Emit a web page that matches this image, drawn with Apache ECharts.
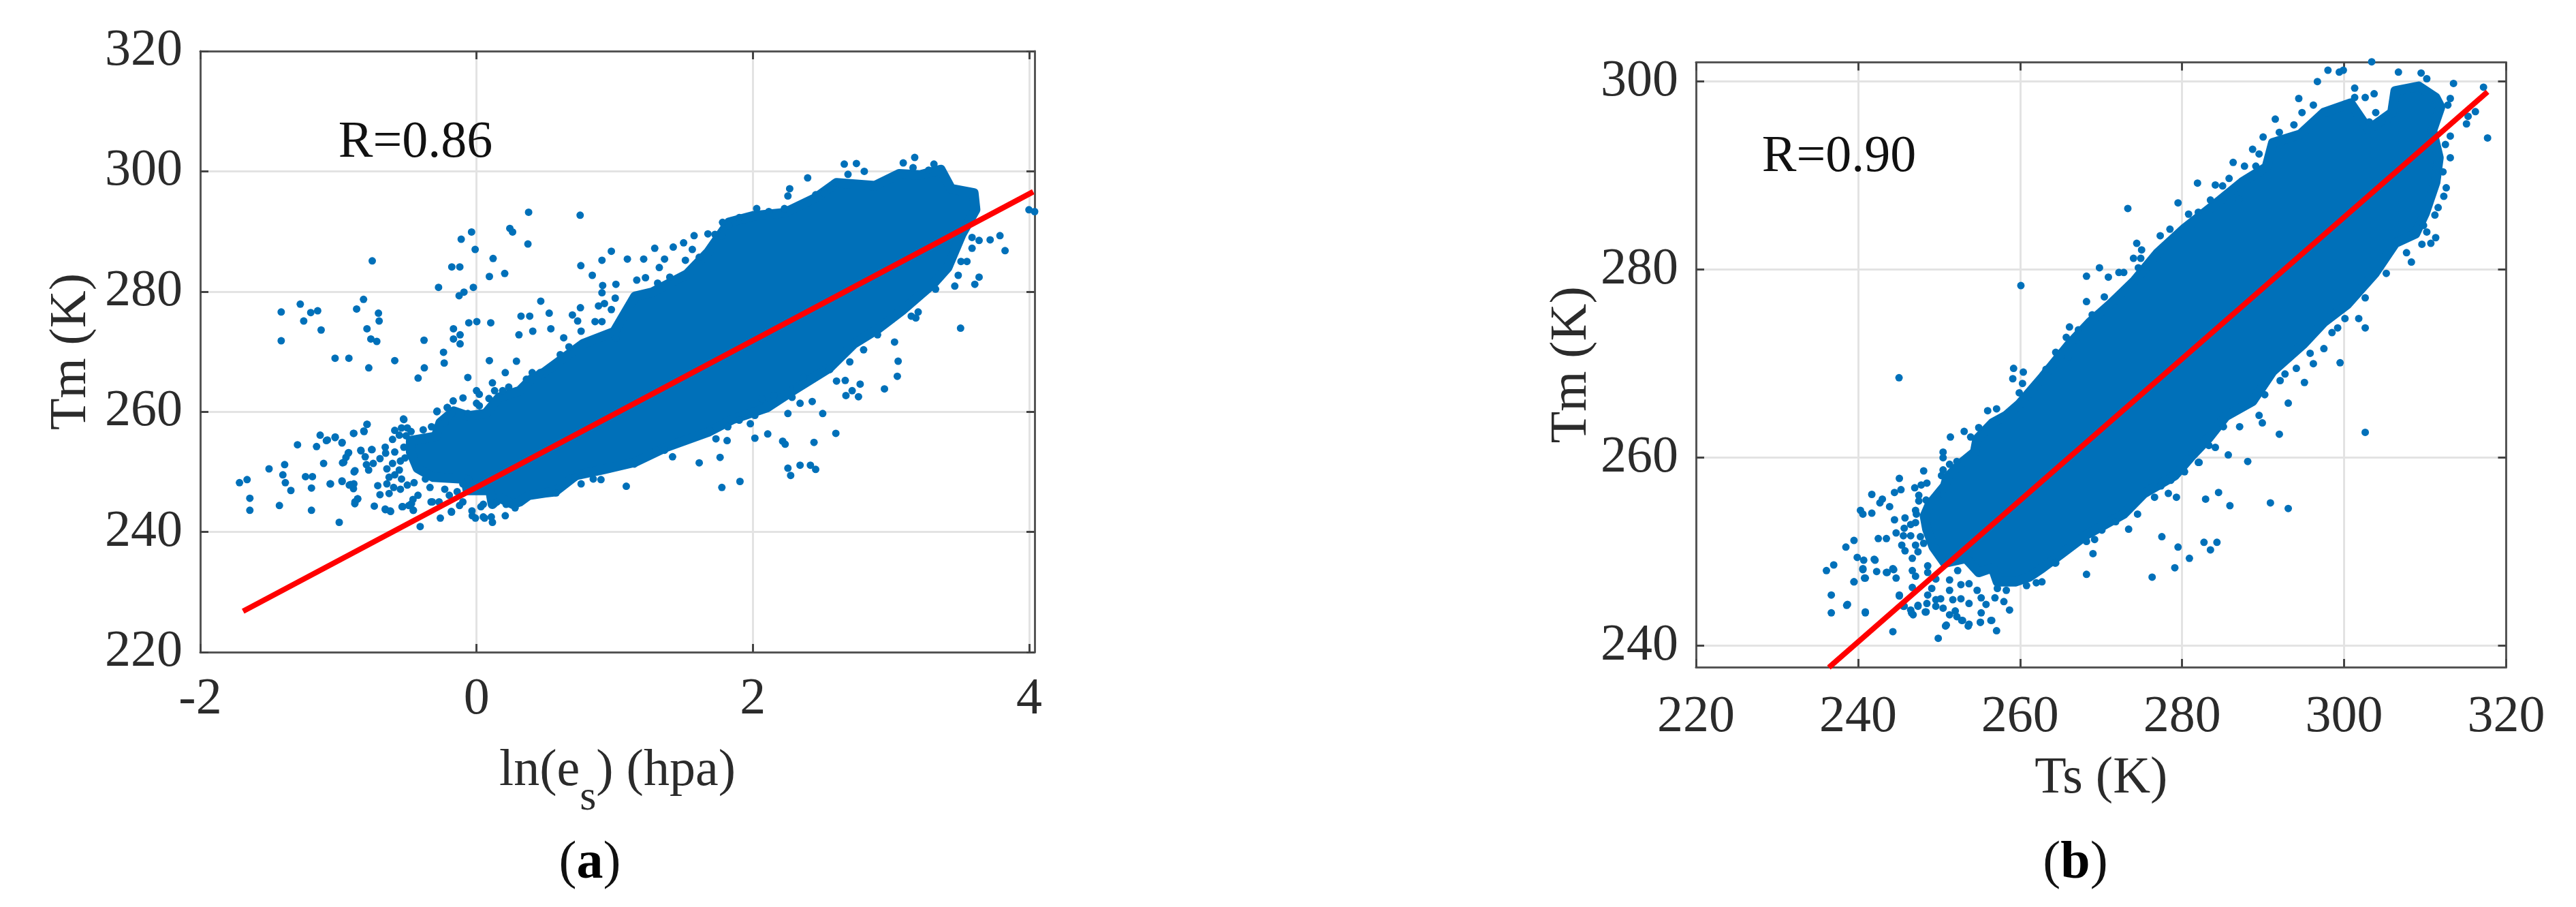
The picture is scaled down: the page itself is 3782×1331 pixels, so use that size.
<!DOCTYPE html>
<html>
<head>
<meta charset="utf-8">
<title>Tm scatter</title>
<style>
  html, body { margin: 0; padding: 0; background: #fff; }
  #chart { width: 3782px; height: 1331px; }
</style>
<script src="https://cdn.jsdelivr.net/npm/echarts@6/dist/echarts.min.js"></script>
</head>
<body>
<div id="chart"></div>
<script>
// tick labels
const xTicksA = [-2, 0, 2, 4]
const yTicksA = [220, 240, 260, 280, 300, 320]
const xTicksB = [220, 240, 260, 280, 300, 320]
const yTicksB = [240, 260, 280, 300]

// red fit lines, read at both ends
const fitA = [[-1.69, 226.8], [4.03, 296.6]]
const fitB = [[236.4, 237.7], [317.7, 298.9]]

// outline of the solid part of each cloud, too dense to read point by point
const cloudA = [
  [-0.477, 255.2], [-0.296, 255.9], [-0.263, 258.2], [-0.165, 260.1], [-0.066, 259.3], [0.066, 259.7],
  [0.164, 262.4], [0.312, 263.5], [0.394, 265.4], [0.493, 266.6], [0.77, 271.3], [0.996, 273.3],
  [1.147, 279.2], [1.273, 279.9], [1.524, 282.9], [1.675, 286.5], [1.826, 291.5], [2.002, 292.6],
  [2.229, 293.1], [2.455, 295.6], [2.606, 298.1], [2.883, 297.6], [3.059, 299.6], [3.21, 299.4],
  [3.361, 300.3], [3.436, 297.1], [3.6, 296.4], [3.613, 293.6], [3.512, 289.5], [3.411, 284],
  [3.311, 281.4], [3.185, 278.9], [3.084, 276.9], [2.908, 273.8], [2.732, 271.3], [2.556, 267.3],
  [2.304, 263.7], [2.103, 260.7], [1.851, 258.7], [1.675, 256.6], [1.374, 254.1], [1.147, 251.6],
  [0.921, 250.4], [0.719, 249.4], [0.568, 246.7], [0.493, 246.5], [0.378, 246.1], [0.312, 245],
  [0.263, 244.6], [0.164, 245.7], [0.115, 244.6], [0.098, 246.9], [-0.066, 246.9], [-0.082, 248.8],
  [-0.313, 249.1], [-0.428, 250.6], [-0.477, 253.3]
]
const cloudB = [
  [248.8, 255], [250.7, 257], [251, 257.9], [252.7, 259.4], [254.4, 260.6], [254.7, 262],
  [256.6, 263.7], [258.3, 264.5], [259.9, 265.7], [262.8, 268.6], [266.1, 272.1], [268.6, 274.4],
  [271.1, 276.3], [274.1, 278.8], [277, 281.8], [280.3, 284.4], [283.7, 286.7], [287.4, 289.3],
  [290.4, 290.9], [291.2, 293.5], [294.6, 294.4], [297.5, 296.7], [300.8, 297.7], [303, 294.9],
  [305.9, 296.7], [306.3, 299], [309.2, 299.5], [311.3, 298.3], [311.9, 297.3], [310.9, 294.8],
  [311.7, 291.9], [311.3, 289.3], [310, 286], [308.8, 283.8], [306.3, 282.8], [303.8, 279.6],
  [300.4, 276.3], [297.5, 274.4], [295, 272.1], [291.2, 269.2], [288.7, 266], [285.4, 264.4],
  [283.3, 262.1], [281.2, 260.2], [279.1, 258.1], [275.3, 256.2], [272.8, 254], [268.2, 251.8],
  [265.3, 249.9], [262.8, 248.3], [261.1, 247.3], [259.4, 246.8], [257.2, 246.8], [256.6, 248.3],
  [254.9, 247.8], [253.3, 249.3], [250.7, 248.8], [249.3, 250.5], [248.5, 252.4], [248.2, 253.8]
]

// single points outside the solid part
const dotsA = [
  [-1.414, 276.6], [-1.414, 271.8], [-1.276, 277.9], [-1.251, 275.1], [-1.2, 276.5], [-1.15, 276.8],
  [-1.125, 273.6], [-1.024, 268.9], [-0.924, 268.9], [-0.868, 277.1], [-0.818, 278.7], [-0.755, 285.1],
  [-0.78, 267.3], [-0.793, 273.8], [-0.765, 272.1], [-0.722, 271.7], [-0.71, 276.4], [-0.705, 275.1],
  [-0.592, 268.5], [-0.423, 265.6], [-0.378, 267.3], [-0.38, 271.9], [-0.275, 280.7], [-0.239, 269.9],
  [-0.234, 268.1], [-0.179, 284.1], [-0.121, 284.1], [-0.126, 279.3], [-0.091, 279.9], [-0.111, 288.7],
  [-0.036, 289.9], [-0.01, 287], [-0.023, 280.7], [-0.056, 274.8], [0.002, 275], [-0.167, 273.8],
  [-0.167, 272.1], [-0.119, 272.8], [-0.119, 271.3], [-0.063, 265.7], [0.093, 268.5], [0.103, 274.8],
  [0.093, 282.5], [0.12, 285.5], [0.204, 283], [0.241, 290.5], [0.261, 289.9], [0.377, 293.2],
  [0.372, 287.9], [0.465, 278.4], [0.322, 275.9], [0.385, 275.9], [0.407, 273.4], [0.307, 272.8],
  [0.289, 268.4], [0.208, 266.5], [-0.287, 260], [-0.212, 260.7], [-0.169, 261.8], [-0.098, 262.3],
  [-0.529, 258.8], [-0.793, 257.9], [-0.816, 256.8], [-0.891, 256.4], [-1.132, 256.1], [-1.087, 255.2],
  [-1.024, 255.7], [-0.974, 254.8], [-1.296, 254.5], [-1.158, 254.2], [-1.502, 250.5], [-1.389, 251.2],
  [-1.107, 251.4], [-0.961, 251.6], [-0.929, 253.1], [-0.836, 253.5], [-0.76, 253.7], [-0.886, 250],
  [-1.716, 248.2], [-1.661, 248.7], [-1.641, 245.6], [-1.641, 243.6], [-1.427, 244.4], [-1.402, 249.5],
  [-1.384, 248.2], [-1.344, 246.9], [-1.238, 249.2], [-1.188, 249.2], [-1.195, 247.3], [-1.195, 243.6],
  [-1.057, 248], [-0.994, 241.6], [-0.974, 248.5], [-0.911, 247.9], [-0.891, 247.2], [-0.861, 245.5],
  [-0.881, 244.7], [-0.74, 244.3], [-0.66, 243.7], [-0.622, 243.4], [-0.534, 244.2], [-0.471, 244.7],
  [-0.458, 243.6], [-0.408, 240.9], [-0.262, 242.3], [-0.182, 243.4], [-0.32, 245], [-0.031, 242.7],
  [0.058, 242.3], [0.115, 241.6], [0.208, 242.7], [0.032, 244.2],
  [-0.526, 258.7], [-0.592, 256.9], [-0.543, 257.3], [-0.501, 257.3], [-0.474, 256.7], [-0.386, 257],
  [-0.326, 257.5], [-0.608, 255.4], [-0.559, 256.1], [-0.51, 256], [-0.661, 254.1], [-0.658, 253.1],
  [-0.592, 253.3], [-0.526, 254.1], [-0.518, 252.3], [-0.551, 251.8], [-0.608, 251.4], [-0.699, 252.2],
  [-0.748, 251.4], [-0.806, 252.5], [-0.838, 253.6], [-0.756, 253.7], [-0.797, 251.2], [-0.781, 250.3],
  [-0.649, 250.5], [-0.633, 249.1], [-0.592, 249.5], [-0.559, 250.3], [-0.543, 248.8], [-0.715, 247.7],
  [-0.649, 248], [-0.6, 247.4], [-0.551, 247.1], [-0.501, 247.8], [-0.452, 248.2], [-0.699, 246.2],
  [-0.633, 246.4], [-0.424, 246.1], [-0.46, 245.4], [-0.37, 248.8], [-0.337, 247.4], [-0.23, 247.1],
  [-0.197, 246.1], [-0.14, 246.7], [-0.099, 248], [-0.058, 248.8], [-0.329, 245], [-0.271, 245],
  [-0.661, 243.8], [-0.625, 243.5], [-0.539, 244.2], [-0.49, 244.4], [-0.457, 243.6], [-0.88, 245],
  [-0.86, 245.5], [-0.888, 248], [-0.921, 247.8], [-0.973, 248.4], [-1.06, 248], [-0.88, 250.2],
  [-0.97, 251.5], [-0.945, 252.4], [-0.926, 253.2], [-0.973, 254.9], [-1.023, 255.8], [-1.08, 255.3],
  [-0.888, 256.4], [-0.814, 256.7], [-0.792, 257.9], [-0.181, 243.3], [-0.123, 244.4], [-0.099, 245],
  [-0.033, 243.5], [-0.008, 242.3], [0.049, 244.6], [0.049, 242.5], [0.107, 242.5], [0.148, 245],
  [0.279, 244], [0.214, 244.6], [-0.285, 260.1], [-0.211, 260.7], [-0.063, 259.7], [0, 263.5],
  [0.02, 262.9], [0, 261.4], [0.02, 261], [0.115, 264.8], [0.09, 262.2], [0.131, 263.5],
  [0.189, 263.5], [0.233, 264.1], [0.361, 265.4], [0.403, 266.5], [0.46, 266.5], [-0.23, 258.2],
  [-0.181, 259.7],
  [0.75, 292.7], [0.755, 284.3], [0.838, 282.7], [0.908, 285.2], [0.976, 286.7], [1.092, 285.4],
  [1.21, 285.4], [1.29, 287.2], [1.424, 287.4], [1.499, 288.1], [1.575, 289.3], [1.675, 289.6],
  [1.781, 291.5], [1.361, 285.4], [1.323, 284], [1.512, 285.2], [1.562, 287], [1.612, 285.7],
  [1.16, 281.9], [1.223, 282.3], [1.009, 281.2], [0.913, 281], [0.908, 279.8], [1.004, 278.9],
  [0.883, 277.6], [0.926, 278], [0.752, 277.3], [0.976, 277], [0.694, 276.1], [0.732, 275.1],
  [0.858, 275], [0.908, 275], [0.757, 273.4], [0.526, 276.4], [0.538, 273.8], [1.009, 272.2],
  [0.631, 272.3], [0.669, 270.8], [0.606, 269.5], [1.399, 282.4], [1.499, 282.7], [1.311, 281.4],
  [2.028, 293.8], [2.116, 293.3], [2.229, 293.8], [2.267, 297.1], [2.254, 295.9], [2.397, 298.9],
  [2.455, 296.1], [2.518, 296.4], [2.662, 301.2], [2.75, 301.3], [2.807, 300], [2.689, 299.5],
  [2.594, 298.1], [3.089, 301.4], [3.172, 302.3], [3.16, 300.6], [3.311, 301.2], [3.273, 300.2],
  [1.902, 292.3], [1.826, 291], [1.726, 289.5], [1.776, 289.3], [3.999, 293.6], [4.04, 293.3],
  [3.789, 289.3], [3.718, 288.6], [3.826, 286.8], [3.638, 288.5], [3.587, 289], [3.587, 287.2],
  [3.55, 285], [3.507, 285], [3.638, 282.4], [3.607, 281.2], [3.462, 280.9], [3.487, 282.7],
  [3.323, 280.4], [3.504, 273.9], [3.197, 276.6], [3.18, 275.6], [3.147, 275.9], [3.026, 271.6],
  [3.052, 268.4], [3.046, 265.9], [2.953, 263.8], [2.777, 264.6], [2.765, 262.5], [2.719, 263.5],
  [2.674, 262.7], [2.669, 265.2], [2.606, 265.1], [2.506, 259.7], [2.43, 261.7], [2.342, 261.4],
  [2.284, 262.4], [2.317, 264], [2.601, 256.4], [2.443, 254.9], [2.254, 259.7], [2.216, 255.1],
  [2.234, 254.6], [2.108, 256.3], [2.015, 255.6], [2.015, 259.4], [1.982, 258], [1.902, 258.6],
  [1.819, 257.5], [1.814, 255.2], [1.733, 255.5], [1.763, 252.4], [1.612, 251.5], [1.419, 252.5],
  [1.361, 253.6], [1.298, 253.6], [1.142, 251.3], [2.903, 272.8], [2.802, 270.3], [2.702, 268.3],
  [2.556, 267], [2.367, 265.7], [2.153, 262.7], [2.065, 262.2], [1.688, 256.9], [1.776, 247.4],
  [1.907, 248.4], [2.254, 250.6], [2.342, 251.1], [2.417, 251.1], [2.455, 250.4], [2.274, 249.4],
  [1.084, 247.6], [0.901, 248.7], [0.845, 248.8], [0.757, 248], [0.576, 246.5], [0.714, 249.1]
]
const dotsB = [
  [245.06, 268.5], [260.1, 278.3], [259.2, 269.5], [260.4, 269.1], [259.1, 268.4], [260.3, 267.9],
  [259.9, 266.9], [257.1, 265.2], [256, 265], [253.1, 262.8], [253.9, 262.2], [251.4, 262.2],
  [254.9, 263.2], [250.5, 260.6], [250.5, 260], [248.1, 258.6], [245.1, 257.8], [245.3, 256.6],
  [244.5, 256.3], [241.7, 256.1], [243, 255.6], [242.7, 255.2], [243.9, 254.8], [240.3, 254.4],
  [240.6, 254], [241.7, 254.1], [247, 256.8], [247.8, 257.1], [248.5, 257.3], [247.5, 256],
  [247.5, 255.4], [248.4, 255.5], [249.8, 256.1], [250.5, 258.7], [250.3, 258.1], [251.3, 259.3],
  [252.2, 259.6], [247.1, 254.4], [247.2, 254], [245.8, 253.6], [244.5, 253.4], [244.7, 252],
  [247.1, 253.1], [245.7, 252.5], [246.5, 252.9], [245.6, 251.7], [246.5, 251.7], [247.7, 251.6],
  [245.4, 250.7], [245.8, 250.1], [247.1, 250.7], [248.1, 250.9], [242.5, 251.4], [243.5, 251.4],
  [246.7, 249.3], [247.4, 250], [246.7, 248], [247.1, 247.4], [248.6, 248.5], [248.6, 247.8],
  [243.5, 247.8], [244.3, 248.2], [244.7, 247.2], [242.3, 247.9], [240.9, 247.2], [240.6, 248.2],
  [240.7, 249.1], [242, 249.2], [239.9, 249.4], [239.5, 246.8], [239.5, 251.2], [238.5, 250.5],
  [238.7, 244.4], [240.9, 243.6], [249.6, 247.1], [251.3, 247], [252.3, 248], [251.3, 245.9],
  [251.7, 244.9], [249.1, 246.1], [248.6, 245.4], [246.7, 246.2], [245.1, 245.4], [245.7, 244.2],
  [247.4, 244.3], [248.4, 243.6], [248.5, 244.5], [246.5, 243.8], [246.8, 243.3], [249.6, 244.9],
  [250.2, 245], [249.6, 244.2], [250.5, 244], [252, 243.7], [251.3, 243.3], [252.2, 243.1],
  [252.8, 242.7], [253.7, 242.3], [255.2, 243.5], [255.1, 242.5], [256.5, 242.7], [250.9, 242.2],
  [252.7, 246.5], [253.7, 246.6], [252.7, 245], [253.7, 244.5], [254.7, 245.9], [255.2, 245.1],
  [255.8, 244.4], [256.9, 245.1], [258, 244.7], [258.7, 243.8], [257.2, 246.1], [258.3, 245.9],
  [260.8, 246.4], [262, 246.7], [262.7, 246.8], [264.3, 248.8],
  [237, 248.6], [236.1, 248], [236.7, 245.4], [238.6, 244.3], [236.7, 243.5], [240.9, 243.5],
  [245.1, 245.3], [244.3, 241.5], [245.6, 244.2], [246.6, 243.5], [247.4, 244.2], [248.3, 243.6],
  [242.1, 249.1], [240.6, 248.1], [240.8, 247.2], [239.5, 246.8], [243.6, 247.8], [244.4, 248.1],
  [250.8, 242.1], [252.9, 242.7], [253.6, 242.1], [255.1, 242.5], [256.4, 242.7], [257.1, 241.6],
  [249.9, 240.8], [273.3, 286.5], [279.5, 287.1], [281.9, 289.2], [284.1, 289],
  [286.3, 291.4], [287.7, 291], [288.7, 292.8], [290, 294.1], [291.5, 296], [292, 294.6],
  [293.8, 295.4], [294.4, 298.2], [294.8, 296.7], [296.2, 297.5], [296.7, 300], [298, 301.2],
  [299.4, 301], [299.9, 301.2], [303.4, 302.1], [301.3, 299.3], [301.3, 298.3], [302.6, 298.3],
  [303.7, 298.7], [303.9, 296.7], [303.1, 295.7], [305.4, 296], [306.7, 301], [309.5, 300.9],
  [310.2, 300.3], [313.5, 299.8], [317.2, 299.4], [313.1, 298.2], [312.8, 297.5], [315.1, 295.5],
  [315.3, 296.3], [316.2, 296.8], [317.7, 294], [313.1, 294.2], [312.5, 293.3], [313.1, 291.9],
  [312.2, 290.4], [312.6, 288.7], [312.3, 287.8], [311.6, 286.6], [311.2, 285.8], [311.3, 283.4],
  [310.7, 282.8], [309.6, 282.7], [309.8, 284.7], [310.2, 284], [308.3, 280.8], [307.7, 281.8],
  [305.2, 279.6], [302.6, 277], [301.8, 274.8], [302.6, 273.8], [300.1, 274.8], [299.2, 273.8],
  [298.5, 273.3], [297.5, 271.6], [299.5, 270.1], [296.2, 270], [295.8, 271.1], [295.1, 268],
  [294.1, 269.5], [292.7, 268.9], [292.1, 268.2], [293.1, 265.8], [290.2, 266.7], [289.5, 264.5],
  [289.9, 263.7], [292, 262.5], [302.6, 262.7], [287.1, 263.3], [285.1, 263.3], [285.7, 260.3],
  [288.1, 259.6], [284.1, 261.1], [283.3, 261.3], [282, 259.5], [281.2, 260.5], [268.2, 279.3],
  [269.8, 280.2], [268.2, 276.6], [268.9, 275.2], [270.4, 277.1], [266.1, 273.9], [267.2, 273.6],
  [265.7, 272.8], [264.4, 271.2], [265.9, 270.7], [263.2, 269.4], [270.9, 279.2], [272.2, 279.7],
  [272.8, 279.7], [274.4, 282.8], [275, 282.1], [274, 281.2], [274.9, 281.2], [274.6, 280.2],
  [277.3, 283.6], [278.5, 284.3], [280.8, 285.9], [282, 286.1], [283.5, 287.4], [285, 288.9],
  [285.8, 289.7], [287, 287.5], [289.1, 291], [289.5, 292.3], [284.5, 256.3], [282.9, 255.6],
  [285.9, 254.9], [290.9, 255.2], [293.1, 254.6], [279.3, 255.8], [278.3, 256.2], [276.6, 255.8],
  [274.5, 254], [277.5, 251.6], [279.5, 250.5], [282.7, 251], [284.3, 251], [283.5, 250.2],
  [280.9, 249.3], [279.1, 248.3], [276.3, 247.3], [268.2, 247.6], [269, 249.8], [268.2, 251.1],
  [269.2, 251.3], [264.4, 248.8], [273.4, 252.4], [271.8, 253.2], [270.1, 252.3],
  [280.3, 258.5], [277.4, 257], [278.6, 257.6], [282.1, 259.5]
]

const SERIF = '"Liberation Serif", "Times New Roman", serif'
const BLUE = '#0070b9'
const INK = '#2b2b2b'

const chart = echarts.init(document.getElementById('chart'))

// one bottom/left axis with labels and a bare top/right twin, so the box has ticks all round
function xAxes(gridIndex, min, max, ticks, name, nameGap, margin) {
  const common = {
    type: 'value', gridIndex, min, max, scale: true,
    axisLine: { show: true, onZero: false, lineStyle: { color: '#555', width: 3 } },
    axisTick: { show: true, inside: true, length: 12, customValues: ticks, lineStyle: { color: '#444', width: 3 } }
  }
  return [
    Object.assign({}, common, {
      position: 'bottom',
      name, nameLocation: 'middle', nameGap,
      nameTextStyle: {
        fontFamily: SERIF, fontSize: 76, color: INK,
        rich: { sub: { fontFamily: SERIF, fontSize: 62, color: INK, padding: [80, 0, 0, 0] } }
      },
      axisLabel: { show: true, customValues: ticks, margin, fontFamily: SERIF, fontSize: 76, color: INK },
      splitLine: { show: true, lineStyle: { color: '#e3e3e3', width: 3 } }
    }),
    Object.assign({}, common, {
      position: 'top', axisLabel: { show: false }, splitLine: { show: false }
    })
  ]
}

function yAxes(gridIndex, min, max, ticks, name, nameGap) {
  const common = {
    type: 'value', gridIndex, min, max, scale: true,
    axisLine: { show: true, onZero: false, lineStyle: { color: '#555', width: 3 } },
    axisTick: { show: true, inside: true, length: 12, customValues: ticks, lineStyle: { color: '#444', width: 3 } }
  }
  return [
    Object.assign({}, common, {
      position: 'left',
      name, nameLocation: 'middle', nameGap, nameRotate: 90,
      nameTextStyle: { fontFamily: SERIF, fontSize: 76, color: INK },
      axisLabel: { show: true, customValues: ticks, margin: 26, fontFamily: SERIF, fontSize: 76, color: INK },
      splitLine: { show: true, lineStyle: { color: '#e3e3e3', width: 3 } }
    }),
    Object.assign({}, common, {
      position: 'right', axisLabel: { show: false }, splitLine: { show: false }
    })
  ]
}

function cloudSeries(axisIndex, outline) {
  return {
    type: 'custom', xAxisIndex: axisIndex, yAxisIndex: axisIndex, clip: false, silent: true, z: 2,
    data: [0],
    renderItem(params, api) {
      return {
        type: 'polygon',
        shape: { points: outline.map(p => api.coord(p)) },
        style: { fill: BLUE, stroke: BLUE, lineWidth: 14, lineJoin: 'round' }
      }
    }
  }
}

function dotSeries(axisIndex, dots) {
  return {
    type: 'scatter', xAxisIndex: axisIndex, yAxisIndex: axisIndex, clip: false, silent: true, z: 3,
    symbolSize: 11, itemStyle: { color: BLUE, opacity: 1 }, data: dots
  }
}

function fitSeries(axisIndex, fit) {
  return {
    type: 'line', xAxisIndex: axisIndex, yAxisIndex: axisIndex, silent: true, z: 4,
    showSymbol: false, clip: false, lineStyle: { color: '#ff0000', width: 8 }, data: fit
  }
}

function note(text, x, y, size) {
  return {
    type: 'text', x, y, z: 10,
    style: {
      text, fontFamily: SERIF, fontSize: size, fill: '#111', textAlign: 'center', textVerticalAlign: 'middle',
      rich: { b: { fontFamily: SERIF, fontSize: size, fontWeight: 'bold', fill: '#000' } }
    }
  }
}

chart.setOption({
  backgroundColor: '#fff',
  animation: false,
  grid: [
    { left: 294, top: 75, width: 1225, height: 882, containLabel: false },
    { left: 2490, top: 91.5, width: 1189.5, height: 887.5, containLabel: false }
  ],
  xAxis: [
    ...xAxes(0, -2, 4.04, xTicksA, 'ln(e{sub|s}) (hpa)', 104, 32),
    ...xAxes(1, 220, 320, xTicksB, 'Ts (K)', 126, 36)
  ],
  yAxis: [
    ...yAxes(0, 220, 320, yTicksA, 'Tm (K)', 151),
    ...yAxes(1, 237.73, 302.04, yTicksB, 'Tm (K)', 140)
  ],
  series: [
    cloudSeries(0, cloudA), dotSeries(0, dotsA), fitSeries(0, fitA),
    cloudSeries(2, cloudB), dotSeries(2, dotsB), fitSeries(2, fitB)
  ],
  graphic: [
    note('R=0.86', 610, 210, 76),
    note('R=0.90', 2700, 231, 76),
    note('({b|a})', 866, 1268, 78),
    note('({b|b})', 3047, 1268, 78)
  ]
})
</script>
</body>
</html>
